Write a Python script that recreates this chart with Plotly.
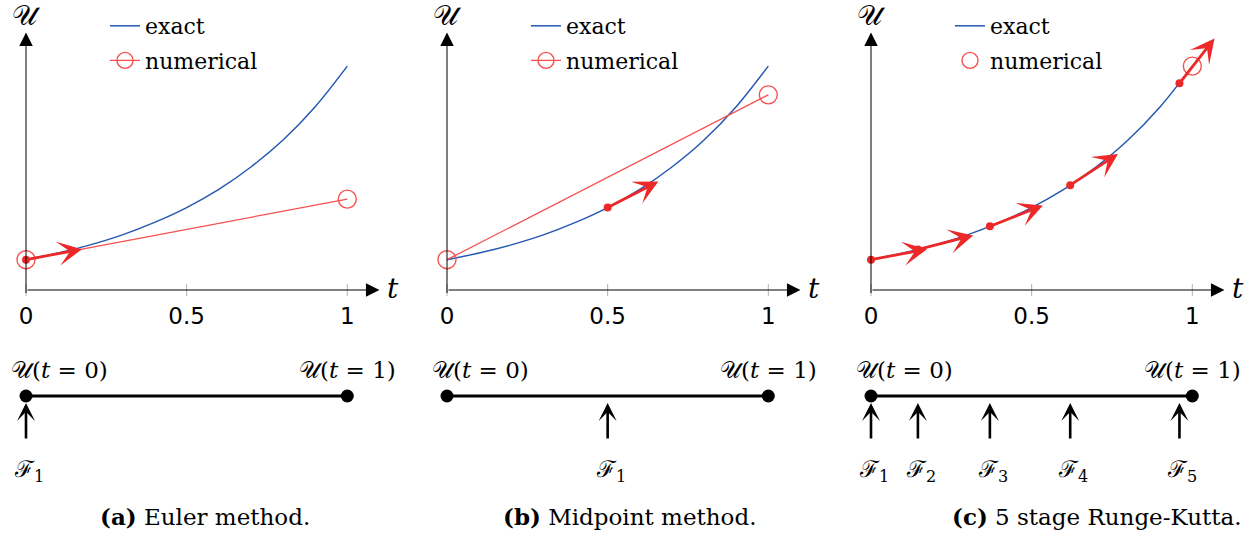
import math
import plotly.graph_objects as go

# ---------------- data ----------------
t_exact = [0.0, 0.1, 0.2, 0.3, 0.4, 0.5, 0.6, 0.7, 0.8, 0.9, 1.0]
u_exact = [1.00, 1.22, 1.49, 1.82, 2.23, 2.72, 3.32, 4.06, 4.95, 6.05, 7.39]

euler_t = [0.0, 1.0]
euler_u = [1.0, 3.0]
mid_t = [0.0, 1.0]
mid_u = [1.0, 6.44]
rk_t = [1.0]
rk_u = [7.39]

euler_stage_t = [0.0]
euler_stage_u = [1.0]
euler_stage_f = [2.0]
mid_stage_t = [0.5]
mid_stage_u = [2.72]
mid_stage_f = [5.44]
rk_stage_t = [0.0, 0.146, 0.37, 0.62, 0.96]
rk_stage_u = [1.0, 1.34, 2.10, 3.46, 6.82]
rk_stage_f = [2.0, 2.68, 4.20, 6.92, 13.6]

tick_vals = [0, 0.5, 1]
tick_text = ["0", "0.5", "1"]
timeline_t = [0.0, 1.0]
captions = ["<b>(a)</b> Euler method.", "<b>(b)</b> Midpoint method.",
            "<b>(c)</b> 5 stage Runge-Kutta."]

# ---------------- layout constants ----------------
W, H = 1258, 540
PX_T = 321.3          # pixels per unit t
PX_U = 30.3           # pixels per unit U
AXIS_Y_PX = 290
UP_BOT_PX = 298
origins = [26, 447, 871]
panel_lr = [(0, 420), (420, 840), (840, 1258)]
T_AX_END = 1.1
U_AX_END = 8.5
ARROW_LEN = 57
TL_Y_PX = 396
CAP_X_PX = [205, 629, 1097]

RED = "rgb(236,40,40)"
RED_L = "rgb(246,80,80)"
BLUE = "rgb(38,88,178)"
SERIF = "DejaVu Serif"
SANS = "DejaVu Sans"

panels = [
    dict(num=(euler_t, euler_u), st=(euler_stage_t, euler_stage_u, euler_stage_f), mode="lines+markers"),
    dict(num=(mid_t, mid_u), st=(mid_stage_t, mid_stage_u, mid_stage_f), mode="lines+markers"),
    dict(num=(rk_t, rk_u), st=(rk_stage_t, rk_stage_u, rk_stage_f), mode="markers"),
]

fig = go.Figure()
annotations = []
shapes = []
layout_axes = {}

up_dom = [1 - UP_BOT_PX / H, 1.0]
u_lo = -(UP_BOT_PX - AXIS_Y_PX) / PX_U
u_hi = AXIS_Y_PX / PX_U
lo_dom = [1 - (TL_Y_PX + 50) / H, 1 - (TL_Y_PX - 50) / H]

for i, p in enumerate(panels):
    k = i + 1
    xs = "" if k == 1 else str(k)
    xa, ya, yl = "x" + xs, "y" + xs, "y" + str(k + 3)
    leg = "legend" if k == 1 else "legend" + str(k)
    L, R = panel_lr[i]
    o = origins[i]
    layout_axes["xaxis" + xs] = dict(
        domain=[L / W, R / W], range=[(L - o) / PX_T, (R - o) / PX_T],
        anchor=ya, showgrid=False, zeroline=False, showline=False, ticks="",
        tickvals=tick_vals, ticktext=tick_text, ticklabelstandoff=2,
        tickfont=dict(family=SANS, size=23, color="black"))
    layout_axes["yaxis" + xs] = dict(domain=up_dom, range=[u_lo, u_hi], anchor=xa,
                                     visible=False, showgrid=False, zeroline=False)
    layout_axes["yaxis" + str(k + 3)] = dict(domain=lo_dom, range=[-1, 1], anchor=xa,
                                             visible=False, showgrid=False, zeroline=False)

    # exact curve
    fig.add_trace(go.Scatter(x=t_exact, y=u_exact, mode="lines", name="exact",
                             line=dict(color=BLUE, width=1.5, shape="spline"),
                             xaxis=xa, yaxis=ya, legend=leg, legendgroup="e%d" % k,
                             cliponaxis=False, hoverinfo="skip"))
    # numerical
    nt, nu = p["num"]
    fig.add_trace(go.Scatter(x=nt, y=nu, mode=p["mode"], name="numerical",
                             line=dict(color=RED_L, width=1.3),
                             marker=dict(symbol="circle-open", size=18, color=RED_L,
                                         line=dict(width=1.4, color=RED_L)),
                             xaxis=xa, yaxis=ya, legend=leg, legendgroup="n%d" % k,
                             cliponaxis=False, hoverinfo="skip"))
    # stage dots
    st_t, st_u, st_f = p["st"]
    fig.add_trace(go.Scatter(x=st_t, y=st_u, mode="markers", showlegend=False,
                             marker=dict(size=8, color=RED),
                             xaxis=xa, yaxis=ya, cliponaxis=False, hoverinfo="skip"))
    # slope arrows
    for tt, uu, ff in zip(st_t, st_u, st_f):
        dxp, dyp = PX_T, ff * PX_U
        n = math.hypot(dxp, dyp)
        ht = tt + ARROW_LEN * dxp / n / PX_T
        hu = uu + ARROW_LEN * dyp / n / PX_U
        annotations.append(dict(x=ht, y=hu, ax=tt, ay=uu, xref=xa, yref=ya,
                                axref=xa, ayref=ya, text="", showarrow=True,
                                arrowhead=3, arrowsize=1.45, arrowwidth=2.8,
                                arrowcolor=RED))
    # axes arrows
    annotations.append(dict(x=T_AX_END, y=0, ax=0, ay=0, xref=xa, yref=ya, axref=xa,
                            ayref=ya, text="", showarrow=True, arrowhead=2,
                            arrowsize=2.7, arrowwidth=1, arrowcolor="black"))
    annotations.append(dict(x=0, y=U_AX_END, ax=0, ay=-0.15, xref=xa, yref=ya, axref=xa,
                            ayref=ya, text="", showarrow=True, arrowhead=2,
                            arrowsize=2.7, arrowwidth=1, arrowcolor="black"))
    annotations.append(dict(x=T_AX_END, y=0, xref=xa, yref=ya, text="<i>t</i>",
                            showarrow=False, xanchor="left", xshift=6, yshift=2,
                            font=dict(family=SERIF, size=28, color="black")))
    annotations.append(dict(x=0, y=U_AX_END, xref=xa, yref=ya, text="𝒰",
                            showarrow=False, xanchor="center", yanchor="bottom", yshift=-2,
                            font=dict(family=SERIF, size=28, color="black")))
    for tv in tick_vals:
        shapes.append(dict(type="line", xref=xa, yref=ya, x0=tv, x1=tv, y0=-0.2, y1=0.2,
                           line=dict(color="#b0b0b0", width=1)))

    # timeline
    fig.add_trace(go.Scatter(x=timeline_t, y=[0, 0], mode="lines+markers", showlegend=False,
                             line=dict(color="black", width=3),
                             marker=dict(size=13, color="black"),
                             xaxis=xa, yaxis=yl, cliponaxis=False, hoverinfo="skip"))
    annotations.append(dict(x=timeline_t[0], y=0, xref=xa, yref=yl,
                            text="𝒰(<i>t</i> = 0)", showarrow=False, xanchor="left",
                            xshift=-17, yshift=26,
                            font=dict(family=SERIF, size=23, color="black")))
    annotations.append(dict(x=timeline_t[1], y=0, xref=xa, yref=yl,
                            text="𝒰(<i>t</i> = 1)", showarrow=False, xanchor="center",
                            yshift=26, font=dict(family=SERIF, size=23, color="black")))
    for j, tt in enumerate(st_t):
        annotations.append(dict(x=tt, y=0, ax=0, ay=44, xref=xa, yref=yl, text="",
                                showarrow=True, standoff=7, arrowhead=3, arrowsize=1.15,
                                arrowwidth=2.6, arrowcolor="black"))
        annotations.append(dict(x=tt, y=0, xref=xa, yref=yl,
                                text="ℱ<sub>%d</sub>" % (j + 1), showarrow=False,
                                xshift=3, yshift=-75,
                                font=dict(family=SERIF, size=23, color="black")))
    # caption
    annotations.append(dict(x=CAP_X_PX[i] / W, y=1 - 516 / H, xref="paper", yref="paper",
                            xanchor="center", yanchor="middle",
                            text=captions[i], showarrow=False,
                            font=dict(family=SERIF, size=23, color="black")))
    # legend
    layout_axes[leg] = dict(x=(o + 79) / W, y=1 - 5 / H, xanchor="left", yanchor="top",
                            bgcolor="rgba(0,0,0,0)", tracegroupgap=3,
                            font=dict(family=SERIF, size=22, color="black"))

fig.update_layout(width=W, height=H, margin=dict(l=0, r=0, t=0, b=0),
                  paper_bgcolor="white", plot_bgcolor="white",
                  annotations=annotations, shapes=shapes, showlegend=True, **layout_axes)
fig.write_html("out.html", config={"displayModeBar": False},
               post_script="document.body.style.margin='0';document.body.style.overflow='hidden';")
